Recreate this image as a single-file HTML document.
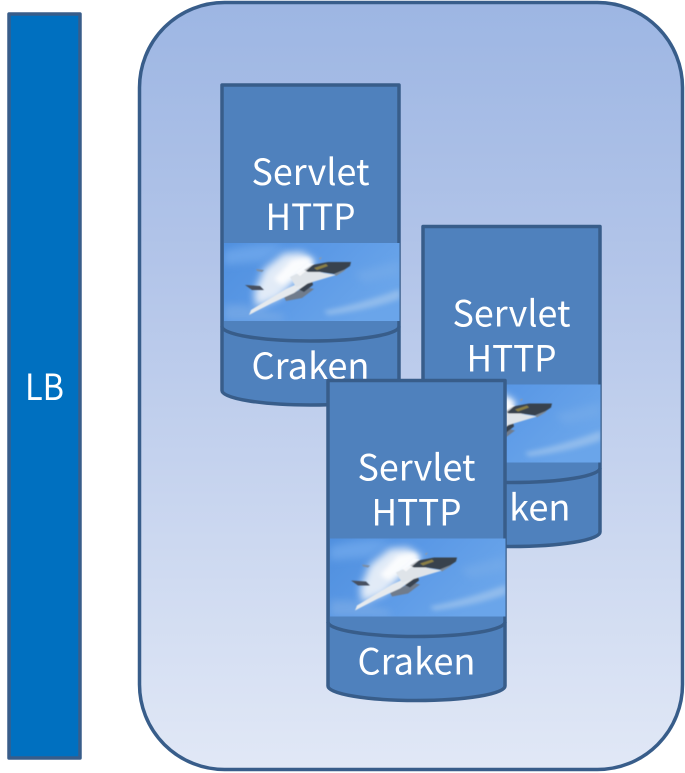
<!DOCTYPE html>
<html>
<head>
<meta charset="utf-8">
<style>
html,body{margin:0;padding:0;background:#fff}
svg{display:block}
text{font-family:"Noto Sans CJK KR","Liberation Sans",sans-serif;fill:#fff;text-anchor:middle}
</style>
</head>
<body>
<svg width="685" height="773" viewBox="0 0 685 773" xmlns="http://www.w3.org/2000/svg">
<defs>
<linearGradient id="bg" x1="0" y1="0" x2="0" y2="1">
<stop offset="0" stop-color="#9db6e3"/>
<stop offset="0.35" stop-color="#b3c5e9"/>
<stop offset="1" stop-color="#e1e8f6"/>
</linearGradient>
<linearGradient id="sky" x1="0" y1="0" x2="1" y2="0.45">
<stop offset="0" stop-color="#4f8fde"/>
<stop offset="0.5" stop-color="#5b99e6"/>
<stop offset="1" stop-color="#6aa5ea"/>
</linearGradient>
<filter id="blur" x="-20%" y="-20%" width="140%" height="140%"><feGaussianBlur stdDeviation="0.6"/></filter>
<filter id="blur2" x="-50%" y="-50%" width="200%" height="200%"><feGaussianBlur stdDeviation="2.500"/></filter>
<filter id="blur3" x="-50%" y="-50%" width="200%" height="200%"><feGaussianBlur stdDeviation="4"/></filter>
<clipPath id="pc"><rect x="0" y="0" width="175.500" height="78"/></clipPath>
<g id="photo" clip-path="url(#pc)">
<rect width="176" height="78" fill="url(#sky)"/>
<path d="M0 8 Q40 -2 60 4 L40 18 L0 22Z" fill="#6fa8ec" filter="url(#blur3)" opacity=".8"/>
<path d="M100 68 Q140 60 176 46 L176 56 Q140 68 104 72Z" fill="#90bbec" filter="url(#blur2)"/>
<path d="M0 62 H20 L60 72 V78 H0Z" fill="#7aabe6" filter="url(#blur3)" opacity=".7"/>
<path d="M130 30 L176 18 V32 L140 40Z" fill="#74aae9" filter="url(#blur3)" opacity=".7"/>
<path d="M60 10 L78 9 L92 18 L76 34 L54 56 L32 64 L30 50 L40 26Z" fill="#eef3f9" filter="url(#blur3)" opacity=".92"/>
<path d="M68 17 L84 14 L90 20 L74 31 L58 42 L50 36Z" fill="#fff" filter="url(#blur2)" opacity=".85"/>
<g filter="url(#blur)">
<path d="M21 42 L36 43 L40 47 L28 47Z" fill="#46505e"/>
<path d="M32 26 L40 27 L38 29 L33 28Z" fill="#7d8da3"/>
<path d="M60 54 L82 44 L90 46 L78 55 L62 58Z" fill="#6f7c8c"/>
<path d="M74 46 L88 37 L89 42 L80 49Z" fill="#39434f"/>
<path d="M25 72 L27 67 L62 46 L84 36 L90 36 L70 50 L48 60Z" fill="#e6eaee"/>
<path d="M66 34 L84 26 L100 30 L112 32 L92 38 L72 44Z" fill="#dfe4e9"/>
<path d="M80 27 L88 22 L104 19 L127 19 L126 23 L120 27 L110 31 L96 29 L84 29Z" fill="#39424d"/>
<path d="M90 25 L102 21 L104 23 L93 27Z" fill="#8a7f45"/>
<path d="M110 31 L122 26 L120 28 L112 33Z" fill="#7f8a96"/>
<path d="M95 15 L98 14 L96 17Z" fill="#8e9aa7"/>
<path d="M72 30 L84 20 L90 21 L76 33Z" fill="#fff" opacity=".7"/>
</g>
</g>
<g id="node">
<path d="M222 85 H399 V390.500 A88.500 14.500 0 0 1 222 390.500Z" fill="#4f81bd" stroke="#385d8a" stroke-width="3.500" stroke-linejoin="round"/>
<path d="M222 326.500 A88.500 14.500 0 0 0 399 326.500" fill="none" stroke="#385d8a" stroke-width="3.500"/>
<use href="#photo" x="224" y="243"/>
<text x="310.500" y="185" font-size="36" textLength="118" lengthAdjust="spacingAndGlyphs">Servlet</text>
<text x="310.500" y="230" font-size="36" textLength="90" lengthAdjust="spacingAndGlyphs">HTTP</text>
<text x="310.500" y="379" font-size="36" textLength="118" lengthAdjust="spacingAndGlyphs">Craken</text>
</g>
</defs>
<rect x="139.500" y="2.500" width="543" height="767" rx="85" ry="85" fill="url(#bg)" stroke="#385d8a" stroke-width="3.500"/>
<rect x="9" y="14" width="71" height="744" fill="#0070c0" stroke="#385d8a" stroke-width="3.500" stroke-linejoin="round"/>
<text x="44.500" y="400" font-size="36" textLength="39" lengthAdjust="spacingAndGlyphs">LB</text>
<use href="#node"/>
<use href="#node" x="201" y="141.500"/>
<use href="#node" x="106" y="295.500"/>
</svg>
</body>
</html>
